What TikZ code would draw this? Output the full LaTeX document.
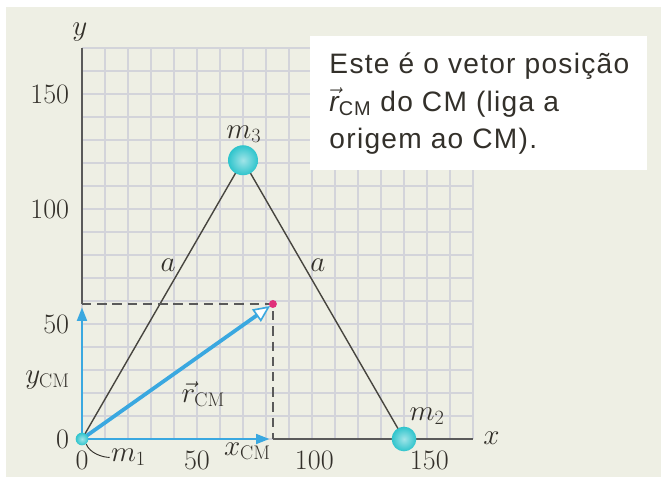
\documentclass[tikz,border=0pt]{standalone}
\usepackage{fontspec}
\newfontfamily\notefont[LetterSpace=4.5]{Liberation Sans}
\usetikzlibrary{arrows.meta, positioning}
\definecolor{cmbg}{HTML}{EEEFE4}
\definecolor{cmgrid}{HTML}{D3D4DA}
\definecolor{cmaxis}{HTML}{5A5A5A}
\definecolor{cmblue}{HTML}{3AA8E0}
\definecolor{cmball}{HTML}{2EC4CC}
\definecolor{cmdot}{HTML}{E0307A}
\definecolor{cmtext}{HTML}{33302A}
\tikzset{
  lbl/.style={font=\fontsize{24}{26}\selectfont, text=cmtext, inner sep=1pt},
  gridline/.style={cmgrid, line width=1.4pt},
  mass/.style={circle, shading=radial, inner color=cmball!45!white, outer color=cmball,
    inner sep=0pt, minimum size=#1},
  rod/.style={draw=cmtext!90, line width=1.2pt},
  axisline/.style={cmaxis, line width=2.2pt},
  guide/.style={cmaxis, line width=2pt, dash pattern=on 8pt off 5pt},
  comp/.style={-{Triangle[length=4mm, width=3mm]}, cmblue, line width=1.5pt},
  rvec/.style={-{Triangle[fill=white, line width=1.4pt, length=5mm, width=4.5mm]}, cmblue, line width=3.2pt},
  leader/.style={draw=cmtext, line width=0.8pt},
  notebox/.style={rectangle, fill=white, minimum width=10.1cm, minimum height=4.02cm},
  notetext/.style={align=left, inner sep=0pt, font=\notefont\fontsize{24}{32}\selectfont, text=cmtext},
}

\begin{document}
\begin{tikzpicture}[x=0.069cm, y=0.069cm]
  \useasboundingbox (-35.65,-17.39) rectangle (251.74,190.87);
  \fill[cmbg] (-33.04,-16.52) rectangle (251.74,187.83);

  % grid
  \foreach \g in {0,10,...,170} {
    \draw[gridline] (\g,0) -- (\g,170);
    \draw[gridline] (0,\g) -- (170,\g);
  }

  \node[notebox, anchor=north west] (note) at (99.1,175.2) {};
  \node[notetext, below right=0.5cm and 0.58cm of note.north west] (notetxt)
    {Este é o vetor posição\\
     $\vec{\mbox{\itshape r}}_{\mbox{\fontsize{17}{17}\selectfont CM}}$ do CM (liga a\\
     origem ao CM).};

  \coordinate (p1) at (0,0);
  \coordinate (p2) at (140,0);
  \coordinate (p3) at (70,121.2);
  \coordinate (cmpt) at (83,58.7);
  \coordinate (xcm) at (83,0);
  \coordinate (ycm) at (0,58.7);
  \coordinate (xend) at (170,0);
  \coordinate (yend) at (0,170);

  \draw[rod] (p1) -- (p3) -- (p2);

  \draw[axisline] (ycm) -- (yend);
  \draw[axisline] (xcm) -- (xend);
  \draw[guide] (ycm) -- (cmpt) -- (xcm);

  \draw[comp, shorten >=3pt] (p1) -- (ycm);
  \draw[comp, shorten >=3pt] (p1) -- (xcm);
  \draw[rvec, shorten >=3pt] (p1) -- (cmpt);

  \node[circle, fill=cmdot, inner sep=0pt, minimum size=0.24cm] (cm) at (cmpt) {};
  \node[mass=0.38cm] (m1) at (p1) {};
  \node[mass=0.74cm] (m2) at (p2) {};
  \node[mass=0.9cm] (m3) at (p3) {};

  % labels
  \node[lbl] (ylab) at (-0.9,177) {$y$};
  \node[lbl] (xlab) at (178,0.5) {$x$};
  \foreach \v in {0,50,100,150}
    \node[lbl, anchor=east] (yt\v) at (-5,\v) {\v};
  \node[lbl] (xt0) at (0,-9.5) {0};
  \node[lbl] (xt50) at (50,-9.5) {50};
  \node[lbl] (xt100) at (101,-9.5) {100};
  \node[lbl] (xt150) at (151,-9.5) {150};

  \node[lbl, anchor=west] (m1lab) at (12,-8) {$m_1$};
  \draw[leader] (m1.-50) .. controls +(1.5,-4) and +(-3,0) .. (m1lab.west);
  \node[lbl] (m2lab) at (150,10) {$m_2$};
  \node[lbl] (m3lab) at (70.4,132.5) {$m_3$};
  \node[lbl] (a1) at (37.4,75.6) {$a$};
  \node[lbl] (a2) at (102.6,75.6) {$a$};
  \node[lbl] (xcmlab) at (71.9,-5.5) {$x_{\mathrm{CM}}$};
  \node[lbl] (ycmlab) at (-15,25.7) {$y_{\mathrm{CM}}$};
  \node[lbl] (rlab) at (52.7,19.5) {$\vec r_{\mathrm{CM}}$};
\end{tikzpicture}
\end{document}
